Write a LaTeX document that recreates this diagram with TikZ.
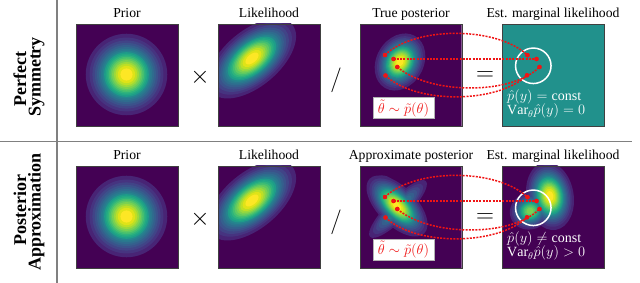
\documentclass[tikz,border=0pt]{standalone}
\usepackage{fontspec}
\setmainfont{Liberation Serif}
\definecolor{vir0}{HTML}{440154}
\definecolor{vir1}{HTML}{471365}
\definecolor{vir2}{HTML}{482475}
\definecolor{vir3}{HTML}{463480}
\definecolor{vir4}{HTML}{414487}
\definecolor{vir5}{HTML}{3B528B}
\definecolor{vir6}{HTML}{355F8D}
\definecolor{vir7}{HTML}{2F6C8E}
\definecolor{vir8}{HTML}{2A788E}
\definecolor{vir9}{HTML}{25848E}
\definecolor{vir10}{HTML}{21918C}
\definecolor{vir11}{HTML}{1E9C89}
\definecolor{vir12}{HTML}{22A884}
\definecolor{vir13}{HTML}{2FB47C}
\definecolor{vir14}{HTML}{44BF70}
\definecolor{vir15}{HTML}{5EC962}
\definecolor{vir16}{HTML}{7AD151}
\definecolor{vir17}{HTML}{9BD93C}
\definecolor{vir18}{HTML}{BDDF26}
\definecolor{vir19}{HTML}{DFE318}
\definecolor{vir20}{HTML}{FDE725}
\definecolor{estteal}{HTML}{21918C}
\definecolor{dotred}{HTML}{F01414}
\definecolor{rulegray}{HTML}{808080}
\newcommand\heatblobs[1]{%
  \foreach \k [evaluate=\k as \kk using int(round(\k*20/19))] in {2,...,19}{%
    \foreach \cx/\cy/\sx/\sy/\an/\w in {#1}{%
      \pgfmathsetmacro\myt{\k/(20*\w)}%
      \ifdim\myt pt<1pt\relax
        \pgfmathsetmacro\rr{sqrt(-2*ln(\myt))}%
        \fill[vir\kk, rotate around={\an:(\cx,\cy)}] (\cx,\cy) ellipse [x radius={\rr*\sx*1pt}, y radius={\rr*\sy*1pt}];%
      \fi
    }%
  }%
}
\newcommand\heatbox[4]{%
  \begin{scope}
    \path[clip] (#2,#3) rectangle ++(102,102);
    \fill[vir0] (#2,#3) rectangle ++(102,102);
    \heatblobs{#4}
  \end{scope}
  \node[boxframe, anchor=north west] (#1) at (#2,#3) {};
}
\tikzset{
  boxframe/.style={draw=black!75, line width=0.8pt, minimum width=102pt, minimum height=102pt, inner sep=0pt},
  coltitle/.style={font=\fontsize{13.7}{16}\selectfont, anchor=base, inner sep=0pt},
  rowlabel/.style={font=\fontsize{18}{20}\selectfont\bfseries, rotate=90, anchor=base, inner sep=0pt},
  oper/.style={font=\fontsize{28}{30}\selectfont, inner sep=0pt},
  dot/.style={circle, fill=dotred, inner sep=0pt, minimum size=4.4pt},
  redcurve/.style={dotred, line width=1.5pt, dash pattern=on 2pt off 1.3pt},
  samplebox/.style={draw=black!30, fill=white, text=dotred, line width=0.6pt, minimum width=61pt, minimum height=21pt, inner sep=0pt, font=\fontsize{15.5}{18}\selectfont},
  esttext/.style={text=white, anchor=base west, inner sep=0pt, font=\fontsize{14}{16}\selectfont},
  ring/.style={draw=white, line width=1.5pt, circle, minimum size=35.5pt, inner sep=0pt},
  rule/.style={draw=rulegray, line width=1.2pt}
}
\begin{document}
\begin{tikzpicture}[x=1pt,y=-1pt]
\useasboundingbox (0,0) rectangle (640,283);
% rules
\draw[rule] (57,0) -- (57,283);
\draw[rule] (0,141.5) -- (632,141.5);
% row labels
\node[rowlabel] (lblA1) at (26,79) {Perfect};
\node[rowlabel] (lblA2) at (40.5,77) {Symmetry};
\node[rowlabel] (lblB1) at (26,210) {Posterior};
\node[rowlabel] (lblB2) at (40.5,212) {Approximation};
% heatmaps, top row
\heatbox{prior1}{76}{24}{126.5/74.5/19/19/0/1}
\heatbox{lik1}{218}{24}{252/58.5/24.5/13/40/1}
\heatbox{post1}{359.5}{24.5}{400/62/14/11/60/1}
\fill[estteal] (502,24.5) rectangle ++(102,102);
\node[boxframe, anchor=north west] (est1) at (502,24.5) {};
% heatmaps, bottom row
\heatbox{prior2}{76}{166}{126.5/216.5/19/19/0/1}
\heatbox{lik2}{218}{166}{252/200.5/24.5/13/40/1}
\heatbox{post2}{359.5}{166}{397/206/18/9/-45/1, 398/209/22/6/45/0.5, 382/188/11/10/0/0.22}
\heatbox{est2}{502}{166}{550/196/16/11/100/1, 530/211/10/9/20/0.8}
% column titles
\node[coltitle] (tprior1) at (127,18) {Prior};
\node[coltitle, font=\fontsize{13.7}{16}\selectfont\addfontfeatures{Ligatures=NoCommon}] (tlik1) at (269,18) {Likelihood};
\node[coltitle] (tpost1) at (411,18) {True posterior};
\node[coltitle] (test1) at (553,18) {Est. marginal likelihood};
\node[coltitle] (tprior2) at (127,160) {Prior};
\node[coltitle, font=\fontsize{13.7}{16}\selectfont\addfontfeatures{Kerning=Off}] (tlik2) at (269,160) {Likelihood};
\node[coltitle] (tpost2) at (411,160) {Approximate posterior};
\node[coltitle] (test2) at (553,160) {Est. marginal likelihood};
% operators
\node[oper] (times1) at (200,77) {$\times$};
\node[oper] (slash1) at (336,80) {$/$};
\node[oper] (eq1) at (485,76) {$=$};
\node[oper] (times2) at (200,219) {$\times$};
\node[oper] (slash2) at (336,222) {$/$};
\node[oper] (eq2) at (485,218) {$=$};
% sample boxes
\node[samplebox] (samp1) at (403.5,108.3) {$\tilde{\theta}\sim\tilde{p}(\theta)$};
\node[samplebox] (samp2) at (403.5,249.8) {$\tilde{\theta}\sim\tilde{p}(\theta)$};
% estimate texts
\node[esttext] (e1a) at (507,100.5) {$\hat{p}(y)=\mathrm{const}$};
\node[esttext] (e1b) at (507,115) {$\mathrm{Var}_{\theta}\hat{p}(y)=0$};
\node[esttext] (e2a) at (507,242.5) {$\hat{p}(y)\neq\mathrm{const}$};
\node[esttext] (e2b) at (507,257) {$\mathrm{Var}_{\theta}\hat{p}(y)>0$};
% rings, curves and dots
\foreach \r/\dy in {1/0,2/142}{
  \node[ring] (ring\r) at (533.3,{65.8+\dy}) {};
  \node[dot] (pA\r) at (385,{55+\dy}) {};
  \node[dot] (pB\r) at (393.5,{59+\dy}) {};
  \node[dot] (pC\r) at (397.3,{67+\dy}) {};
  \node[dot] (pD\r) at (385.5,{75.5+\dy}) {};
  \node[dot] (qA\r) at (527.5,{55.2+\dy}) {};
  \node[dot] (qB\r) at (536.5,{59+\dy}) {};
  \node[dot] (qC\r) at (539.5,{67+\dy}) {};
  \node[dot] (qD\r) at (527,{75.3+\dy}) {};
  \draw[redcurve] (pA\r.center) .. controls +(30,-29) and +(-30.5,-29) .. (qA\r.center);
  \draw[redcurve] (pB\r.center) -- (qB\r.center);
  \draw[redcurve] (pC\r.center) .. controls +(33,28) and +(-27.5,28) .. (qC\r.center);
  \draw[redcurve] (pD\r.center) .. controls +(29.5,28.5) and +(-30,28.7) .. (qD\r.center);
  \foreach \p in {pA,pB,pC,pD,qA,qB,qC,qD}{
    \node[dot] at (\p\r) {};
  }
}
\end{tikzpicture}
\end{document}
